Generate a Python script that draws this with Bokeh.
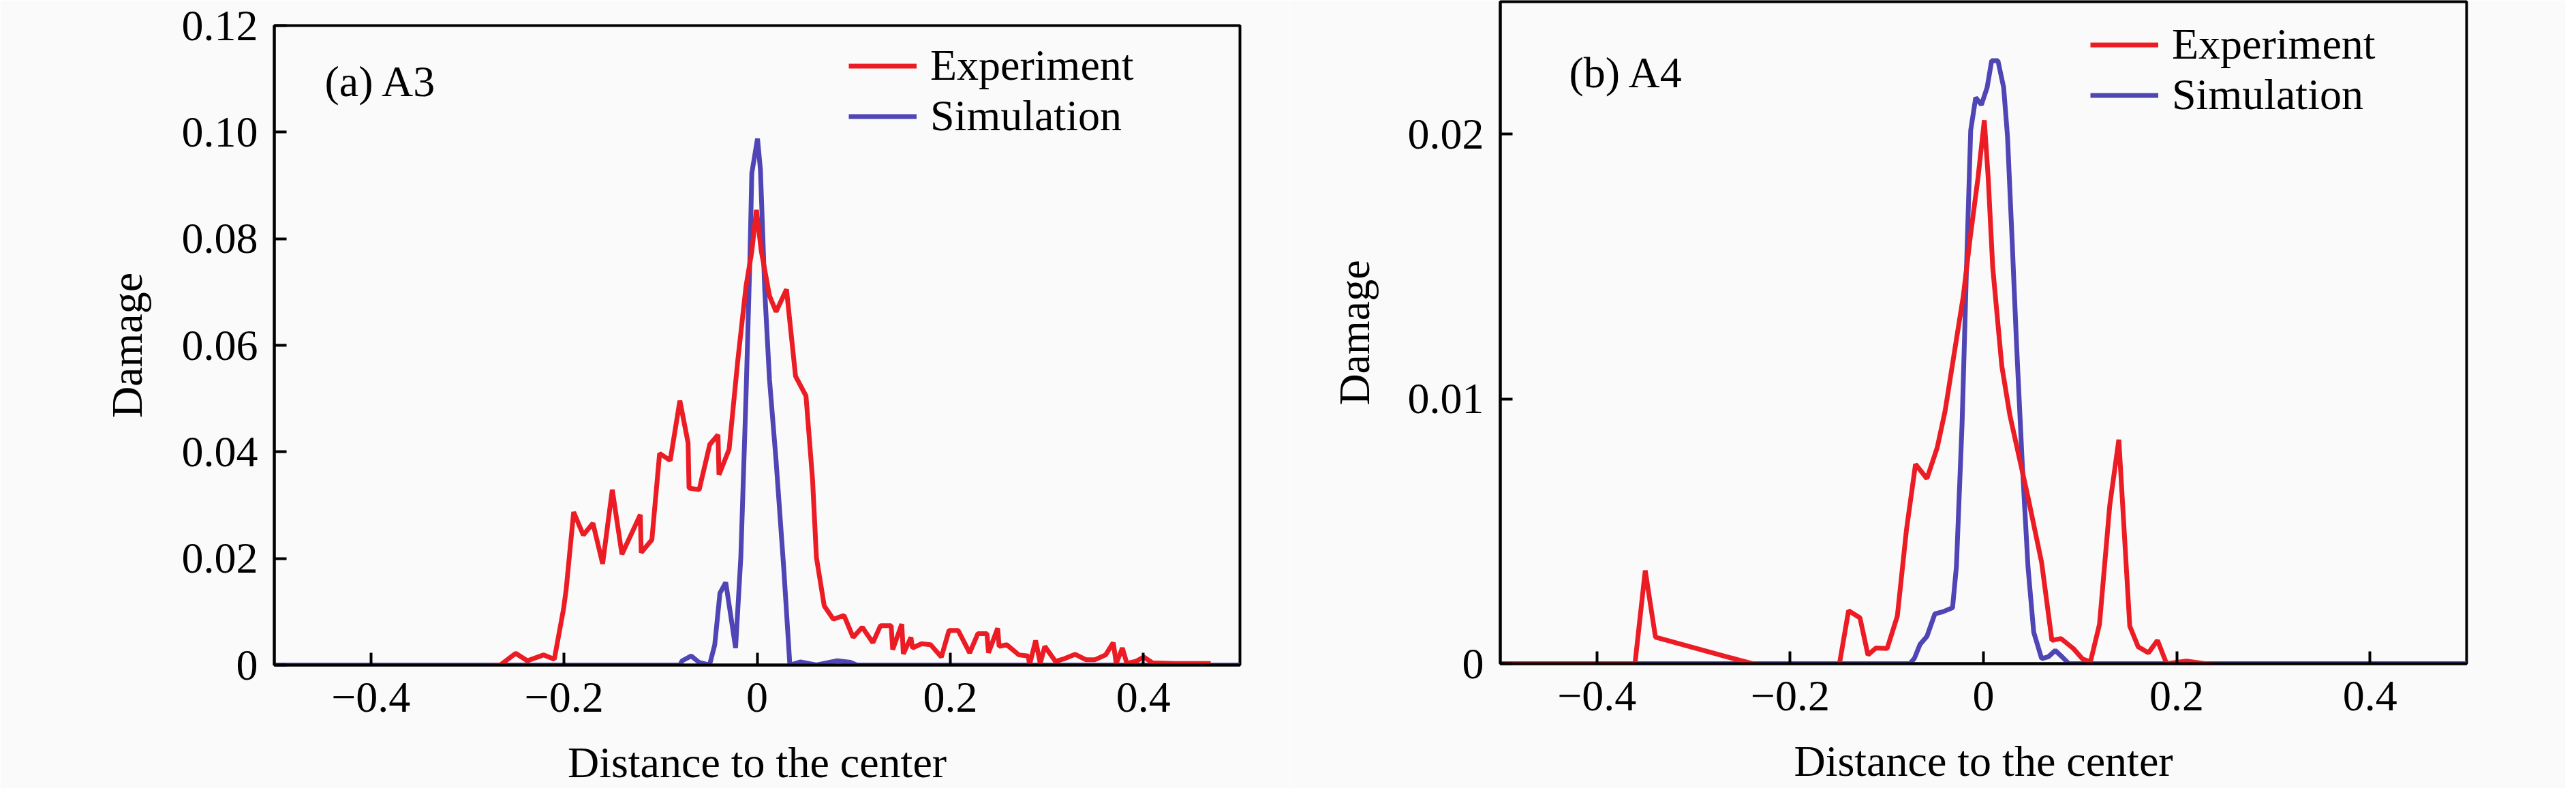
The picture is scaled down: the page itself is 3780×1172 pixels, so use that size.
import numpy as np
from bokeh.plotting import figure
from bokeh.layouts import row
from bokeh.models import (CustomJSTickFormatter, FixedTicker, Label, Legend,
                          LegendItem, Range1d)
from bokeh.embed import file_html
from bokeh.resources import INLINE

# (a) A3 -- distance to the center vs damage
a3_exp_x = [-0.500, -0.400, -0.300, -0.283, -0.266, -0.250, -0.238, -0.221, -0.210,
            -0.2005, -0.1978, -0.190, -0.180, -0.170, -0.160, -0.150, -0.140, -0.121,
            -0.120, -0.109, -0.101, -0.090, -0.080, -0.0715, -0.0705, -0.060, -0.049,
            -0.0405, -0.0395, -0.029, -0.020, -0.0115, -0.0056, -0.0007, 0.0042, 0.0128,
            0.0196, 0.0304, 0.0398, 0.0506, 0.0574, 0.0614, 0.0695, 0.0789, 0.0900,
            0.0994, 0.1089, 0.1199, 0.1278, 0.1388, 0.1404, 0.1498, 0.1514, 0.1593,
            0.1608, 0.1703, 0.1797, 0.1908, 0.1987, 0.2081, 0.2201, 0.2286, 0.2380,
            0.2396, 0.2491, 0.2506, 0.2585, 0.2711, 0.2806, 0.2822, 0.2884, 0.2932,
            0.2979, 0.3089, 0.3184, 0.3294, 0.3404, 0.3499, 0.3609, 0.3688, 0.3719,
            0.3782, 0.3829, 0.3924, 0.4003, 0.4097, 0.4318, 0.4697]
a3_exp_y = [-0.0007, -0.0006, -0.0004, -0.0002, 0.0000, 0.0022, 0.0008, 0.0019, 0.0011,
            0.0105, 0.0141, 0.0287, 0.0244, 0.0266, 0.0190, 0.0329, 0.0208, 0.0282,
            0.0211, 0.0235, 0.0397, 0.0384, 0.0496, 0.0417, 0.0332, 0.0329, 0.0414,
            0.0432, 0.0357, 0.0405, 0.0572, 0.0711, 0.0775, 0.0854, 0.0778, 0.0693,
            0.0663, 0.0705, 0.0542, 0.0505, 0.0348, 0.0202, 0.0111, 0.0086, 0.0093,
            0.0052, 0.0071, 0.0042, 0.0074, 0.0074, 0.0029, 0.0077, 0.0021, 0.0052,
            0.0032, 0.0040, 0.0038, 0.0015, 0.0065, 0.0065, 0.0023, 0.0059, 0.0059,
            0.0023, 0.0069, 0.0035, 0.0038, 0.0019, 0.0017, 0.0001, 0.0046, 0.0003,
            0.0035, 0.0007, 0.0012, 0.0020, 0.0010, 0.0010, 0.0019, 0.0042, 0.0003,
            0.0032, 0.0003, 0.0007, 0.0015, 0.0004, 0.0003, 0.0003]
a3_sim_x = [-0.500, -0.300, -0.200, -0.080, -0.0776, -0.0682, -0.0601, -0.0493, -0.0439,
            -0.0385, -0.0325, -0.0223, -0.0169, -0.0115, -0.0075, -0.0055, 0.0004, 0.0034,
            0.0080, 0.0128, 0.0196, 0.0277, 0.0339, 0.045, 0.0614, 0.083, 0.0965, 0.1033,
            0.500]
a3_sim_y = [0.0, 0.0, 0.0, 0.0, 0.0008, 0.0017, 0.0005, 0.0, 0.0038,
            0.0135, 0.0155, 0.0032, 0.0202, 0.0505, 0.0760, 0.0923, 0.0988, 0.0930,
            0.0699, 0.0536, 0.0384, 0.0178, 0.0, 0.0006, 0.0, 0.0008, 0.0005, 0.0,
            0.0]

# (b) A4
a4_exp_x = [-0.500, -0.3606, -0.350, -0.3394, -0.2524, -0.2195, -0.2007, -0.1913, -0.1607,
            -0.149, -0.1396, -0.1278, -0.1195, -0.1113, -0.0997, -0.0891, -0.0797, -0.0703,
            -0.0585, -0.0479, -0.0397, -0.0303, -0.0209, -0.0139, -0.0056, 0.0009, 0.0049,
            0.0096, 0.0190, 0.0273, 0.0367, 0.0461, 0.0602, 0.0708, 0.0802, 0.0931, 0.1025,
            0.1107, 0.1201, 0.1307, 0.1401, 0.1514, 0.1601, 0.1707, 0.1801, 0.1895, 0.21,
            0.25, 0.28]
a4_exp_y = [0.0, 0.0, 0.00352, 0.00100, 0.00013, -0.00018, -0.00007, -0.00023, -0.00023,
            0.0, 0.00200, 0.00173, 0.00033, 0.00059, 0.00057, 0.00180, 0.00505, 0.00753,
            0.00699, 0.00815, 0.00954, 0.01171, 0.01387, 0.01604, 0.01836, 0.02052, 0.01836,
            0.01497, 0.01124, 0.00939, 0.00784, 0.00629, 0.00382, 0.00088, 0.00095, 0.00057,
            0.00018, 0.00007, 0.00149, 0.00598, 0.00846, 0.00142, 0.00064, 0.00041, 0.00088,
            0.0, 0.0001, -0.0001, -0.0001]
a4_sim_x = [-0.500, -0.0762, -0.0715, -0.0656, -0.0585, -0.0503, -0.0421, -0.0320, -0.0280,
            -0.0221, -0.0174, -0.0132, -0.0080, -0.0021, 0.0038, 0.0085, 0.0150, 0.0209,
            0.0249, 0.0296, 0.0343, 0.0402, 0.0461, 0.0520, 0.0602, 0.0672, 0.0743, 0.0813,
            0.0884, 0.500]
a4_sim_y = [0.0, 0.0, 0.0002, 0.00073, 0.00103, 0.00188, 0.00196, 0.00211, 0.00366,
            0.00908, 0.01511, 0.02014, 0.02138, 0.02111, 0.02176, 0.02277, 0.02277, 0.02176,
            0.01991, 0.01604, 0.01202, 0.00753, 0.00366, 0.00119, 0.00019, 0.00026, 0.00050,
            0.00026, 0.0, 0.0]

x_ticks = [-0.4, -0.2, 0, 0.2, 0.4]
a3_y_ticks = [0, 0.02, 0.04, 0.06, 0.08, 0.10, 0.12]
a4_y_ticks = [0, 0.01, 0.02]

FONT = "Liberation Serif"
FS = "64px"
RED = "#ec1c24"
BLUE = "#4f45b4"
BG = "#fafafa"


def panel(exp_x, exp_y, sim_x, sim_y, ytop, yticks, tag, tag_xy, leg_loc,
          width, border, standoffs):
    p = figure(width=width, height=1156, output_backend="svg", toolbar_location=None,
               x_range=Range1d(-0.5, 0.5), y_range=Range1d(0, ytop),
               min_border_left=border[0], min_border_right=border[1],
               min_border_top=border[2], min_border_bottom=border[3],
               background_fill_color=BG, border_fill_color=BG)
    p.frame_align = False  # the two panels have their frames at different heights
    p.grid.visible = False
    p.outline_line_color = "black"
    p.outline_line_width = 4

    sim = p.line(sim_x, sim_y, line_color=BLUE, line_width=7)
    exp = p.line(exp_x, exp_y, line_color=RED, line_width=7)

    p.xaxis.ticker = FixedTicker(ticks=x_ticks)
    p.yaxis.ticker = FixedTicker(ticks=yticks)
    p.xaxis.formatter = CustomJSTickFormatter(code="""
        if (Math.abs(tick) < 1e-9) return "0";
        return (tick < 0 ? "\u2212" : "") + Math.abs(tick).toFixed(1);""")
    p.yaxis.formatter = CustomJSTickFormatter(code="""
        if (Math.abs(tick) < 1e-9) return "0";
        return tick.toFixed(2);""")
    p.xaxis.axis_label = "Distance to the center"
    p.yaxis.axis_label = "Damage"
    for ax in p.axis:
        ax.axis_line_width = 4
        ax.major_tick_in = 18
        ax.major_tick_out = 0
        ax.major_tick_line_width = 4
        ax.minor_tick_line_color = None
        ax.major_label_text_font = FONT
        ax.major_label_text_font_size = FS
        ax.major_label_text_color = "black"
        ax.axis_label_text_font = FONT
        ax.axis_label_text_font_size = FS
        ax.axis_label_text_font_style = "normal"
        ax.axis_label_text_color = "black"
    p.xaxis.major_label_standoff = 26
    p.xaxis.axis_label_standoff = standoffs[0]
    p.yaxis.major_label_standoff = 24
    p.yaxis.axis_label_standoff = standoffs[1]

    legend = Legend(items=[LegendItem(label="Experiment", renderers=[exp]),
                           LegendItem(label="Simulation", renderers=[sim])],
                    location=leg_loc, glyph_width=100, glyph_height=71,
                    label_height=71, label_standoff=20, spacing=0, padding=0,
                    margin=0, label_text_font=FONT, label_text_font_size=FS,
                    label_text_color="black",
                    background_fill_alpha=0, border_line_alpha=0)
    p.add_layout(legend)

    p.add_layout(Label(x=tag_xy[0], y=tag_xy[1], text=tag, text_font=FONT,
                       text_font_size=FS, text_color="black",
                       text_baseline="alphabetic"))
    return p


p1 = panel(a3_exp_x, a3_exp_y, a3_sim_x, a3_sim_y, 0.12, a3_y_ticks, "(a) A3",
           (-0.4478, 0.1095), (843, 768), 1892, (402, 73, 37, 181), (36, 42))
p2 = panel(a4_exp_x, a4_exp_y, a4_sim_x, a4_sim_y, 0.025, a4_y_ticks, "(b) A4",
           (-0.4288, 0.02232), (866, 797), 1872, (309, 145, 2, 183), (36, 40))

page = row(p1, p2)
open("out.html", "w").write(file_html(page, INLINE))
